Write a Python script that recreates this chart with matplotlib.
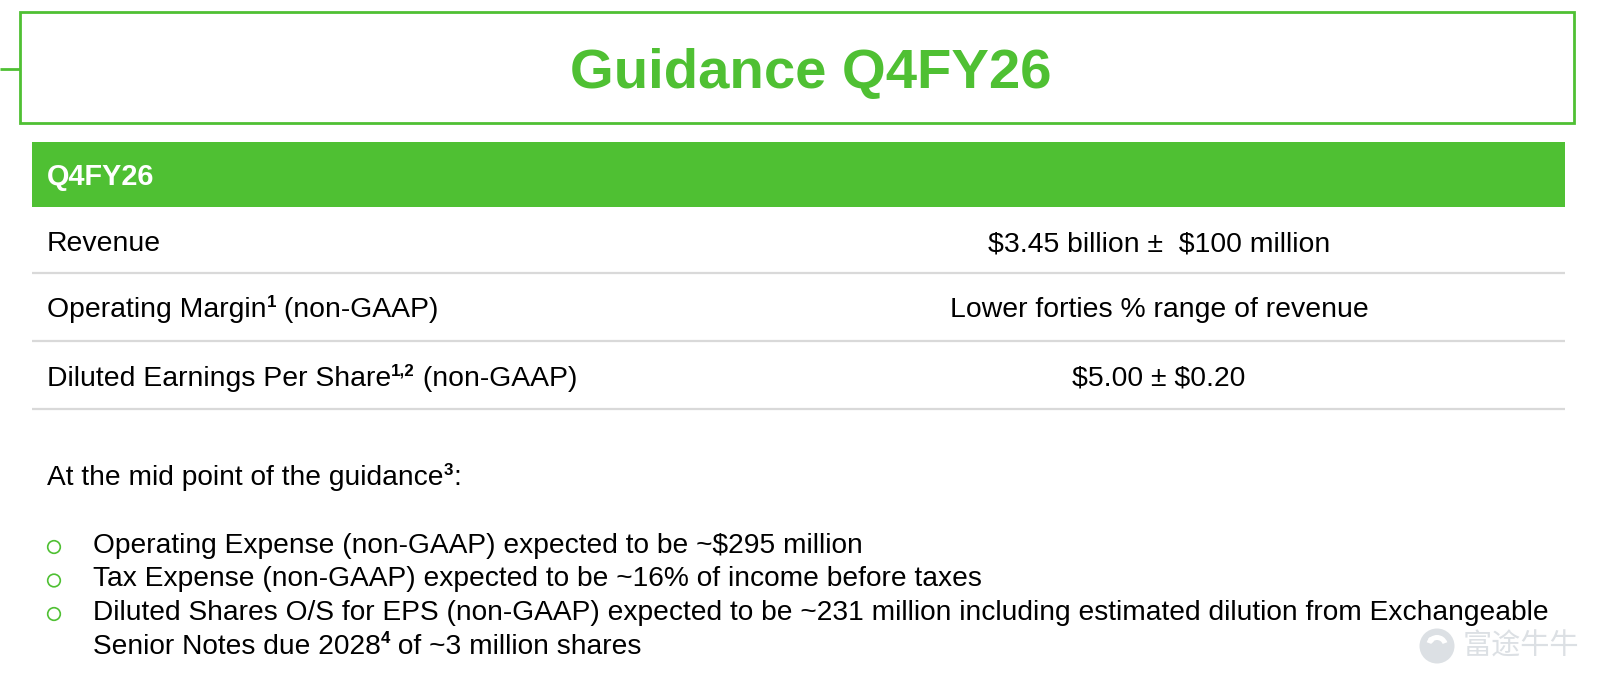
import matplotlib
matplotlib.use("Agg")
import matplotlib.pyplot as plt
from matplotlib.patches import Rectangle, Circle, Wedge

# ---- content ----
title = "Guidance Q4FY26"
header = "Q4FY26"
# row labels as (text, superscript?) segments
row_labels = [
    [("Revenue", False)],
    [("Operating Margin", False), ("1", True), (" (non-GAAP)", False)],
    [("Diluted Earnings Per Share", False), ("1,2", True), (" (non-GAAP)", False)],
]
row_values = [
    "$3.45 billion \u00b1  $100 million",
    "Lower forties % range of revenue",
    "$5.00 \u00b1 $0.20",
]
intro = [("At the mid point of the guidance", False), ("3", True), (":", False)]
bullets = [
    [[("Operating Expense (non-GAAP) expected to be ~$295 million", False)]],
    [[("Tax Expense (non-GAAP) expected to be ~16% of income before taxes", False)]],
    [[("Diluted Shares O/S for EPS (non-GAAP) expected to be ~231 million including estimated dilution from Exchangeable", False)],
     [("Senior Notes due 2028", False), ("4", True), (" of ~3 million shares", False)]],
]
watermark = "富途牛牛"

GREEN = "#4FC033"
FONT = ["Liberation Sans", "DejaVu Sans"]
plt.rcParams["font.family"] = FONT

W, H = 1600, 684
fig = plt.figure(figsize=(W / 100, H / 100), dpi=100)
ax = fig.add_axes([0, 0, 1, 1])
ax.set_xlim(0, W)
ax.set_ylim(H, 0)
ax.axis("off")
renderer = fig.canvas.get_renderer()


def rich(x, y, segs, size, color="black"):
    """Draw text segments left to right from baseline (x, y)."""
    px = size * 100 / 72.0
    for txt, sup in segs:
        if sup:
            t = ax.text(x, y - 0.36 * px, txt, fontsize=size * 0.6, fontweight="bold",
                        color=color, ha="left", va="baseline", parse_math=False)
        else:
            t = ax.text(x, y, txt, fontsize=size, color=color, ha="left",
                        va="baseline", parse_math=False)
        bb = t.get_window_extent(renderer=renderer)
        x += bb.width


# title box
ax.add_patch(Rectangle((19.5, 12), 1554.5, 111, fill=False, ec=GREEN, lw=2.0))
ax.plot([0, 19.5], [69, 69], color=GREEN, lw=2.0, solid_capstyle="butt")
ax.text(811, 88, title, color=GREEN, fontsize=40.5, fontweight="bold",
        ha="center", va="baseline", parse_math=False)

# header bar
ax.add_patch(Rectangle((32, 142), 1533, 65, fc=GREEN, ec="none"))
ax.text(47, 185, header, color="white", fontsize=20.8, fontweight="bold",
        ha="left", va="baseline", parse_math=False)

# rows
ROW_FS = 20.4
baselines = [251, 317, 386]
seps = [273, 341, 409]
for lab, val, yb, ys in zip(row_labels, row_values, baselines, seps):
    rich(47, yb, lab, ROW_FS)
    ax.text(1159, yb, val, color="black", fontsize=ROW_FS, ha="center",
            va="baseline", parse_math=False)
    ax.plot([32, 1565], [ys, ys], color="#D9D9D9", lw=1.6, solid_capstyle="butt")

# intro and bullets
BODY_FS = 20.25
rich(47, 485, intro, BODY_FS)
yb = 553
for item in bullets:
    ax.add_patch(Circle((54, yb - 6), 6.3, fill=False, ec=GREEN, lw=1.2))
    for line in item:
        rich(93, yb, line, BODY_FS)
        yb += 33.5

# watermark
wm = "#DCE0E4"
ax.add_patch(Circle((1437, 646), 17.5, fc=wm, ec="none"))
ax.add_patch(Wedge((1437, 646), 11, 200, 340, width=5, fc="white", ec="none"))
ax.add_patch(Circle((1431, 640), 3, fc="white", ec="none"))
ax.text(1463, 647, watermark, color=wm, fontsize=21,
        family=["Noto Sans CJK SC", "DejaVu Sans"], ha="left", va="center")

fig.savefig("out.png", dpi=100)
